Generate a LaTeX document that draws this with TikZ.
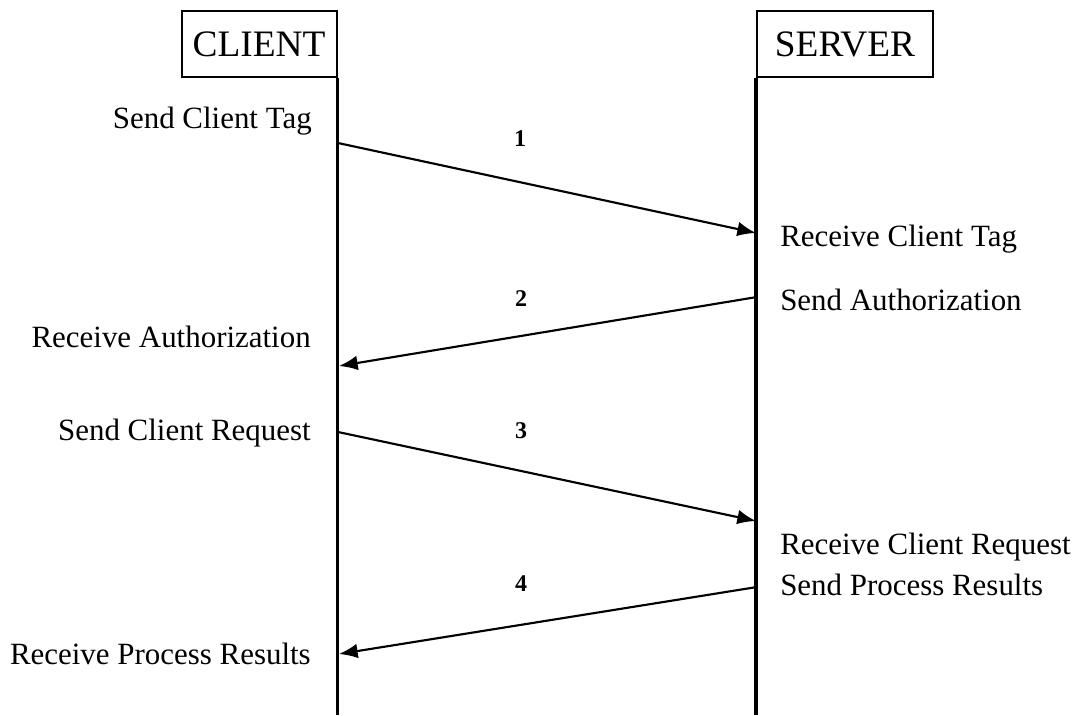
\documentclass[tikz,border=0pt]{standalone}
\usepackage{fontspec}
\setmainfont{Liberation Serif}
\usetikzlibrary{arrows.meta}
\begin{document}
\begin{tikzpicture}[x=0.75pt,y=-0.75pt,
  head/.style={draw,line width=1.5pt,minimum height=66*0.75pt,inner sep=0pt,font=\fontsize{28}{32}\selectfont},
  lbl/.style={inner sep=0pt,font=\fontsize{23.2}{26}\selectfont},
  num/.style={inner sep=0pt,font=\bfseries\fontsize{18}{20}\selectfont},
  life/.style={line width=2.4pt},
  msg/.style={line width=1.6pt,-{Latex[length=14pt,width=11pt]}}]
\useasboundingbox (0,0) rectangle (1079,715);
\node[head,minimum width=155*0.75pt] (cbox) at (259,44) {CLIENT};
\node[head,minimum width=176*0.75pt] (sbox) at (845,44) {SERVER};
\coordinate (cend) at (cbox.south east |- 0,715);
\coordinate (send) at (sbox.south west |- 0,715);
\draw[life] (cbox.south east) -- (cend);
\draw[life] (sbox.south west) -- (send);
% message points
\coordinate (c1) at (338,143); \coordinate (s1) at (756,233);
\coordinate (s2) at (757,297); \coordinate (c2) at (339,366);
\coordinate (c3) at (338,432); \coordinate (s3) at (756,521);
\coordinate (s4) at (757,587); \coordinate (c4) at (339,654);
\draw[msg] (c1) -- (s1);
\draw[msg] (s2) -- (c2);
\draw[msg] (c3) -- (s3);
\draw[msg] (s4) -- (c4);
\node[num] (n1) at (520,139) {1};
\node[num] (n2) at (521,299) {2};
\node[num] (n3) at (521,431) {3};
\node[num] (n4) at (521,584) {4};
\node[lbl,anchor=east] (t1) at (312,121) {Send Client Tag};
\node[lbl,anchor=west] (t2) at (780,239) {Receive Client Tag};
\node[lbl,anchor=west] (t3) at (780,300) {Send Authorization};
\node[lbl,anchor=east] (t4) at (311,337) {Receive Authorization};
\node[lbl,anchor=east] (t5) at (311,433) {Send Client Request};
\node[lbl,anchor=west] (t6) at (780,547) {Receive Client Request};
\node[lbl,anchor=west] (t7) at (780,585) {Send Process Results};
\node[lbl,anchor=east] (t8) at (311,654) {Receive Process Results};
\end{tikzpicture}
\end{document}
